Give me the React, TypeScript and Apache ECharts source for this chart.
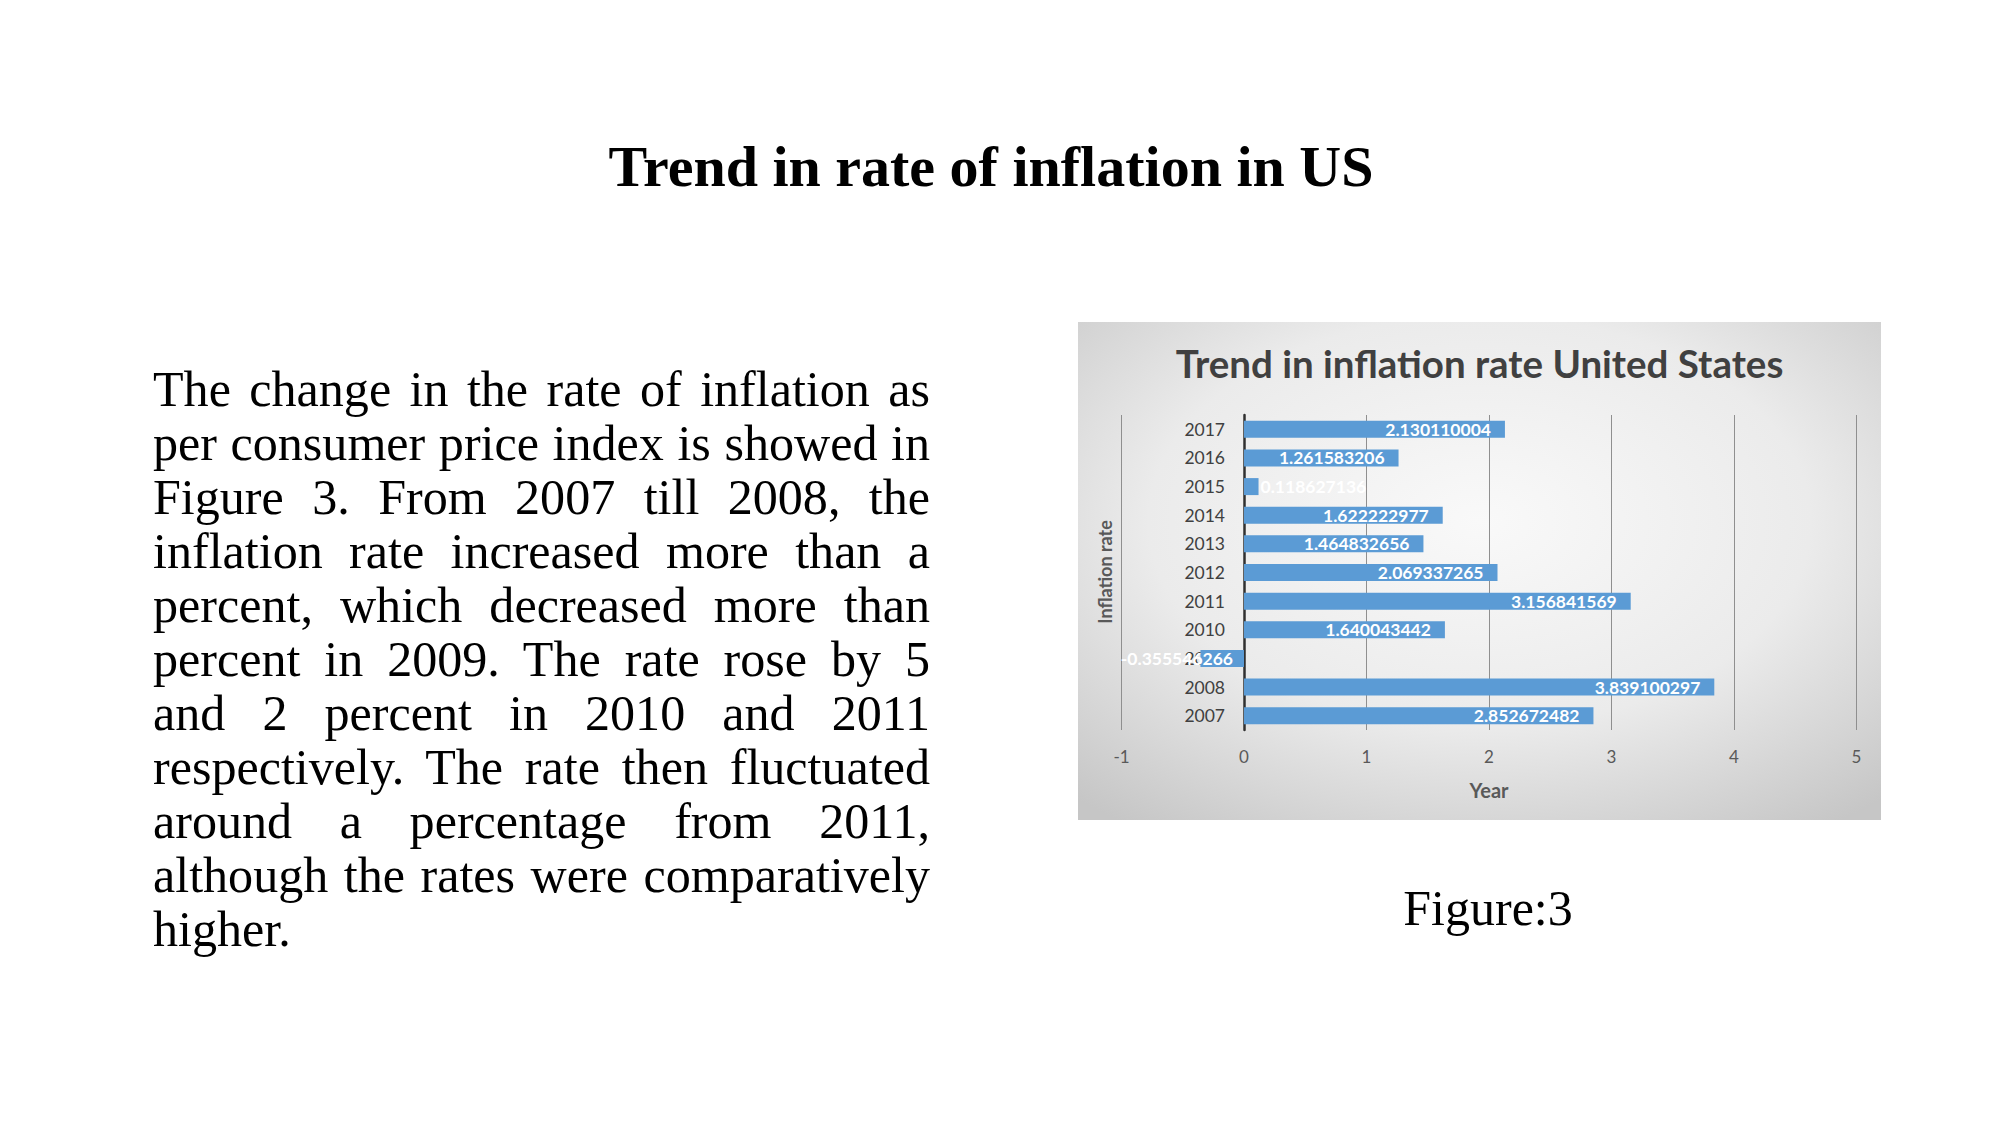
import React, { useEffect, useRef } from "react";
import * as echarts from "echarts";

const years = ["2007", "2008", "2009", "2010", "2011", "2012", "2013", "2014", "2015", "2016", "2017"];
const inflation = [2.852672482, 3.839100297, -0.355546266, 1.640043442, 3.156841569, 2.069337265, 1.464832656, 1.622222977, 0.118627136, 1.261583206, 2.130110004];
const labelTexts = ["2.852672482", "3.839100297", "-0.355546266", "1.640043442", "3.156841569", "2.069337265", "1.464832656", "1.622222977", "0.118627136", "1.261583206", "2.130110004"];
const xTicks = { min: -1, max: 5, interval: 1 };

const slideTitle = "Trend in rate of inflation in US";
const chartTitle = "Trend in inflation rate United States";
const xAxisTitle = "Year";
const yAxisTitle = "Inflation rate";
const paragraph =
  "The change in the rate of inflation as per consumer price index is showed in Figure 3. From 2007 till 2008, the inflation rate increased more than a percent, which decreased more than percent in 2009. The rate rose by 5 and 2 percent in 2010 and 2011 respectively. The rate then fluctuated around a percentage from 2011, although the rates were comparatively higher.";
const caption = "Figure:3";

function Chart() {
  const ref = useRef<HTMLDivElement>(null);
  useEffect(() => {
    if (!ref.current) return;
    const chart = echarts.init(ref.current, null, { renderer: "svg" });
    const data = inflation.map((v) => {
      const item: any = { value: v };
      if (v < 0) {
        item.label = { position: "insideRight", distance: 11 };
      } else if (v < 0.5) {
        item.label = { position: "right", distance: 2 };
      }
      return item;
    });
    chart.setOption({
      animation: false,
      backgroundColor: {
        type: "radial",
        x: 0.5,
        y: 0.4,
        r: 0.75,
        colorStops: [
          { offset: 0, color: "#f9f9f9" },
          { offset: 0.55, color: "#ebebeb" },
          { offset: 1, color: "#c6c6c6" },
        ],
      },
      title: {
        text: chartTitle,
        left: "center",
        top: 16,
        textStyle: { fontFamily: "Lato", fontWeight: "bold", fontSize: 38.5, color: "#404040" },
      },
      graphic: [
        {
          type: "text",
          x: 27,
          y: 250,
          rotation: Math.PI / 2,
          style: {
            text: yAxisTitle,
            fontFamily: "Lato",
            fontWeight: "bold",
            fontSize: 18,
            fill: "#595959",
            align: "center",
            verticalAlign: "middle",
          },
        },
      ],
      grid: { left: 43.5, right: 24.5, top: 93, bottom: 90, containLabel: false, outerBoundsMode: "none" },
      xAxis: {
        type: "value",
        min: xTicks.min,
        max: xTicks.max,
        interval: xTicks.interval,
        name: xAxisTitle,
        nameLocation: "middle",
        nameGap: 50,
        nameTextStyle: { fontFamily: "Lato", fontWeight: "bold", fontSize: 20, color: "#595959" },
        axisLine: { show: false },
        axisTick: { show: false },
        axisLabel: { fontFamily: "Lato", fontSize: 17, color: "#595959", margin: 18 },
        splitLine: { show: true, lineStyle: { color: "#8f8f8f", width: 1 } },
      },
      yAxis: {
        type: "category",
        data: years,
        axisLine: { show: true, onZero: true, lineStyle: { color: "#303030", width: 2.5 } },
        axisTick: { show: false },
        axisLabel: { fontFamily: "Lato", fontSize: 17.5, color: "#404040", margin: -103.5 },
        splitLine: { show: false },
      },
      series: [
        {
          type: "bar",
          data,
          barWidth: 17,
          itemStyle: { color: "#5b9bd5" },
          label: {
            show: true,
            position: "insideRight",
            distance: 14,
            fontFamily: "Lato",
            fontWeight: "bold",
            fontSize: 17.5,
            color: "#ffffff",
            formatter: (p: any) => labelTexts[p.dataIndex],
          },
        },
      ],
    });
    return () => chart.dispose();
  }, []);
  return <div ref={ref} style={{ width: 803, height: 498 }} />;
}

export default function App() {
  useEffect(() => {
    document.body.style.margin = "0";
    document.body.style.overflow = "hidden";
  }, []);
  const serif = '"Liberation Serif", "Times New Roman", serif';
  return (
    <div style={{ position: "absolute", left: 0, top: 0, width: 2001, height: 1125, background: "#ffffff", overflow: "hidden" }}>
      <div
        style={{
          position: "absolute",
          left: 0,
          width: 1982,
          top: 132,
          textAlign: "center",
          fontFamily: serif,
          fontWeight: "bold",
          fontSize: 58,
          lineHeight: "70px",
          color: "#000",
        }}
      >
        {slideTitle}
      </div>
      <div
        style={{
          position: "absolute",
          left: 153,
          width: 777,
          top: 362,
          textAlign: "justify",
          fontFamily: serif,
          fontSize: 50.1,
          lineHeight: "54px",
          color: "#000",
        }}
      >
        {paragraph}
      </div>
      <div style={{ position: "absolute", left: 1078, top: 322 }}>
        <Chart />
      </div>
      <div
        style={{
          position: "absolute",
          left: 1288,
          width: 400,
          top: 880,
          textAlign: "center",
          fontFamily: serif,
          fontSize: 50,
          lineHeight: "56px",
          color: "#000",
        }}
      >
        {caption}
      </div>
    </div>
  );
}
